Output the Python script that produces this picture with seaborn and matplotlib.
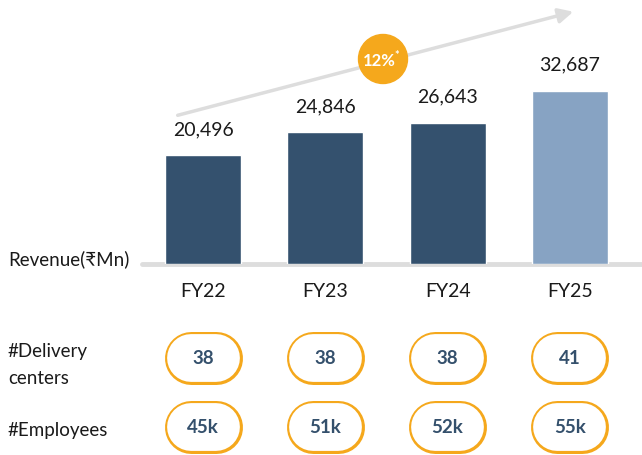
import numpy as np
import matplotlib
matplotlib.use('Agg')
import matplotlib.pyplot as plt
from matplotlib.patches import Circle, FancyArrowPatch
import seaborn as sns

# data
years = ['FY22', 'FY23', 'FY24', 'FY25']
revenue = [20496, 24846, 26643, 32687]
delivery_centers = ['38', '38', '38', '41']
employees = ['45k', '51k', '52k', '55k']
cagr_label = '12%'

bar_colors = ['#34516e', '#34516e', '#34516e', '#87a3c3']
orange = '#f5a81c'
navy = '#34506c'

sns.set_theme(style='white')
plt.rcParams['font.family'] = ['Lato', 'DejaVu Sans']

W, H = 642, 456
fig = plt.figure(figsize=(W / 100, H / 100), dpi=100)

def px_axes(x0, y0, x1, y1):
    # axes rectangle given in pixel coords measured from top-left
    return fig.add_axes([x0 / W, 1 - y1 / H, (x1 - x0) / W, (y1 - y0) / H])

# bar chart
ax = px_axes(142, 0, 642, 265)
sns.barplot(x=years, y=revenue, hue=years, palette=bar_colors, legend=False,
            width=0.62, ax=ax, saturation=1)
ax.set_xlim(-0.5, 3.59)
ax.set_ylim(0, 50000)
for c in ax.containers:
    ax.bar_label(c, labels=[f'{int(v):,}' for v in c.datavalues], padding=13,
                 fontsize=14, color='#1a1a1a')
ax.axhline(0, color='#dddddd', lw=3.5, clip_on=False, zorder=0)
ax.set_xlabel('')
ax.set_ylabel('')
ax.set_yticks([])
ax.tick_params(axis='x', length=0, pad=13, labelsize=14, labelcolor='#1a1a1a')
sns.despine(ax=ax, left=True, bottom=True)

# growth arrow and CAGR bubble
fig.patches.append(FancyArrowPatch(
    (175, H - 117), (576, H - 12), transform=None, arrowstyle='-|>',
    mutation_scale=22, color='#dddddd', lw=2.5))
fig.patches.append(Circle((3.83, (H - 60) / 100), 0.245,
                          transform=fig.dpi_scale_trans, color=orange, zorder=5))
fig.text(379 / W, 1 - 61 / H, cagr_label, color='white', fontsize=12,
         fontweight='bold', ha='center', va='center', zorder=6)
fig.text(397 / W, 1 - 55 / H, '*', color='white', fontsize=8,
         fontweight='bold', ha='center', va='center', zorder=6)

# row labels
fig.text(8 / W, 1 - 259 / H, 'Revenue(₹Mn)', fontsize=13.5, color='#1a1a1a',
         va='center', ha='left')
fig.text(8 / W, 1 - 365 / H, '#Delivery\ncenters', fontsize=13.5, color='#1a1a1a',
         va='center', ha='left', linespacing=1.75)
fig.text(8 / W, 1 - 431 / H, '#Employees', fontsize=13.5, color='#1a1a1a',
         va='center', ha='left')

# pill table (1 data unit = same pixels on both axes)
ax2 = px_axes(142, 320, 642, 456)
unit = 500 / 4.09
ax2.set_xlim(-0.5, 3.59)
ax2.set_ylim(0, 136 / unit)
ax2.axis('off')
pill_h_px, pill_w_px, edge_px = 53, 78, 2.6
half = (pill_w_px - pill_h_px) / 2 / unit
rows = [(97 / unit, delivery_centers), (28 / unit, employees)]
for yc, vals in rows:
    for i, v in enumerate(vals):
        ax2.plot([i - half, i + half], [yc, yc], color=orange,
                 lw=pill_h_px * 0.72, solid_capstyle='round', clip_on=False)
        ax2.plot([i - half, i + half], [yc, yc], color='white',
                 lw=(pill_h_px - 2 * edge_px) * 0.72, solid_capstyle='round',
                 clip_on=False)
        ax2.text(i, yc, v, ha='center', va='center', fontsize=13.5,
                 fontweight='bold', color=navy)

fig.savefig('out.png', dpi=100)
